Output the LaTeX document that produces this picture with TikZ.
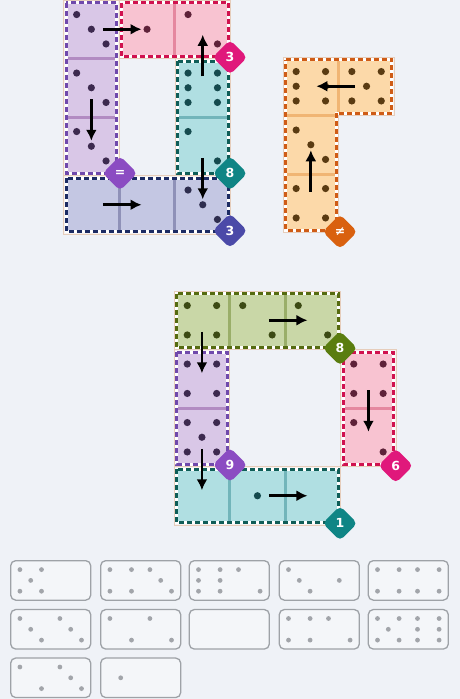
\documentclass[tikz,border=0pt]{standalone}
\usepackage{fontspec}
\setmainfont{DejaVu Sans}
\usetikzlibrary{arrows.meta,shapes.geometric}

\definecolor{bgcol}{HTML}{EFF2F7}
\definecolor{cellbg}{HTML}{F7F2EF}
\definecolor{celledge}{HTML}{E6CDBB}
\definecolor{lilacfill}{HTML}{D9C7E7}
\definecolor{lilacline}{HTML}{7049AC}
\definecolor{lilacdiv}{HTML}{B28BC2}
\definecolor{lilacpip}{HTML}{3D2A4F}
\definecolor{lilacbadge}{HTML}{8B4CC2}
\definecolor{rosefill}{HTML}{F8C3D1}
\definecolor{roseline}{HTML}{D0124F}
\definecolor{rosediv}{HTML}{E5879F}
\definecolor{rosepip}{HTML}{5E2239}
\definecolor{rosebadge}{HTML}{E0187B}
\definecolor{tealfill}{HTML}{B0DFE2}
\definecolor{tealline}{HTML}{0F5E58}
\definecolor{tealdiv}{HTML}{72B5BA}
\definecolor{tealpip}{HTML}{154A4E}
\definecolor{tealbadge}{HTML}{0F8585}
\definecolor{navyfill}{HTML}{C4C7E3}
\definecolor{navyline}{HTML}{1C2B63}
\definecolor{navydiv}{HTML}{8F91B8}
\definecolor{navypip}{HTML}{2E2D4E}
\definecolor{navybadge}{HTML}{4B4AA8}
\definecolor{amberfill}{HTML}{FCD9A9}
\definecolor{amberline}{HTML}{CF5C16}
\definecolor{amberdiv}{HTML}{F0B574}
\definecolor{amberpip}{HTML}{5A3B12}
\definecolor{amberbadge}{HTML}{D9610F}
\definecolor{olivefill}{HTML}{C9D7A7}
\definecolor{oliveline}{HTML}{566B10}
\definecolor{olivediv}{HTML}{9AAE69}
\definecolor{olivepip}{HTML}{3C4A14}
\definecolor{olivebadge}{HTML}{5A7D0F}
\definecolor{trayfill}{HTML}{F4F6F9}
\definecolor{trayline}{HTML}{9EA2A7}
\definecolor{traypip}{HTML}{A2A5AA}

\newcommand{\pips}[5]{%
  \def\pp##1##2{\fill[#1] ([shift={(##1*#4,##2*#4)}]#2) circle (#5);}%
  \ifcase#3\relax
  \or \pp{0}{0}%
  \or \pp{-1}{-1}\pp{1}{1}%
  \or \pp{-1}{-1}\pp{0}{0}\pp{1}{1}%
  \or \pp{-1}{-1}\pp{1}{-1}\pp{-1}{1}\pp{1}{1}%
  \or \pp{-1}{-1}\pp{1}{-1}\pp{0}{0}\pp{-1}{1}\pp{1}{1}%
  \or \pp{-1}{-1}\pp{1}{-1}\pp{-1}{0}\pp{1}{0}\pp{-1}{1}\pp{1}{1}%
  \fi}

\begin{document}
\begin{tikzpicture}[x=1pt, y=-1pt, >={Latex[length=11pt,width=11pt]},
  cellbed/.style={fill=cellbg, draw=celledge, line width=0.8pt},
  zoneunder/.style={draw=white, line width=3pt},
  zoneline/.style={draw=#1, line width=3pt, dash pattern=on 5pt off 3pt},
  splitline/.style={draw=#1, line width=3pt},
  domarrow/.style={->, line width=2.8pt, shorten <=11.5pt, shorten >=5.5pt},
  badge/.style={diamond, fill=#1, text=white, minimum size=35pt, inner sep=0pt, rounded corners=5pt, font=\fontsize{12.5pt}{12.5pt}\selectfont\bfseries},
  tray/.style={draw=trayline, fill=trayfill, line width=1.3pt, rounded corners=5pt, minimum width=80pt, minimum height=39.5pt, inner sep=0pt}]
\fill[bgcol] (0,0) rectangle (460,699);
\useasboundingbox (0,0) rectangle (460,699);

\coordinate (a00) at (91.35,29.25);
\coordinate (a10) at (147.05,29.25);
\coordinate (a20) at (202.75,29.25);
\coordinate (a01) at (91.35,87.75);
\coordinate (a21) at (202.75,87.75);
\coordinate (a02) at (91.35,146.25);
\coordinate (a22) at (202.75,146.25);
\coordinate (a03) at (91.35,204.75);
\coordinate (a13) at (147.05,204.75);
\coordinate (a23) at (202.75,204.75);
\coordinate (o00) at (310.85,86.25);
\coordinate (o10) at (366.55,86.25);
\coordinate (o01) at (310.85,144.75);
\coordinate (o02) at (310.85,203.25);
\coordinate (b00) at (201.95,320.25);
\coordinate (b10) at (257.45,320.25);
\coordinate (b20) at (312.95,320.25);
\coordinate (b01) at (201.95,378.75);
\coordinate (b02) at (201.95,437.25);
\coordinate (b03) at (201.95,495.75);
\coordinate (b13) at (257.45,495.75);
\coordinate (b23) at (312.95,495.75);
\coordinate (b31) at (368.45,378.75);
\coordinate (b32) at (368.45,437.25);

\draw[cellbed] (63.5,0) rectangle (119.2,175.5);
\draw[cellbed] (119.2,0) rectangle (230.6,58.5);
\draw[cellbed] (174.9,58.5) rectangle (230.6,175.5);
\draw[cellbed] (63.5,175.5) rectangle (230.6,234);
\draw[cellbed] (283,57) -- (394.4,57) -- (394.4,115.5) -- (338.7,115.5) -- (338.7,232.5) -- (283,232.5) -- cycle;
\draw[cellbed] (174.2,291) rectangle (340.7,349.5);
\draw[cellbed] (174.2,349.5) rectangle (229.7,466.5);
\draw[cellbed] (174.2,466.5) rectangle (340.7,525);
\draw[cellbed] (340.7,349.5) rectangle (396.2,466.5);

\fill[lilacfill] (66,2.5) rectangle (116.7,173);
\fill[rosefill] (121.7,2.5) rectangle (228.1,56);
\fill[tealfill] (177.4,61) rectangle (228.1,173);
\fill[navyfill] (66,178) rectangle (228.1,231.5);
\fill[amberfill] (285.5,59.5) -- (391.9,59.5) -- (391.9,113) -- (336.2,113) -- (336.2,230) -- (285.5,230) -- cycle;
\fill[olivefill] (176.7,293.5) rectangle (338.2,347);
\fill[lilacfill] (176.7,352) rectangle (227.2,464);
\fill[tealfill] (176.7,469) rectangle (338.2,522.5);
\fill[rosefill] (343.2,352) rectangle (393.7,464);

\draw[splitline=lilacdiv] (66,58.5) -- (116.7,58.5);
\draw[splitline=lilacdiv] (66,117) -- (116.7,117);
\draw[splitline=rosediv] (174.9,2.5) -- (174.9,56);
\draw[splitline=tealdiv] (177.4,117) -- (228.1,117);
\draw[splitline=navydiv] (119.2,178) -- (119.2,231.5);
\draw[splitline=navydiv] (174.9,178) -- (174.9,231.5);
\draw[splitline=amberdiv] (338.7,59.5) -- (338.7,113);
\draw[splitline=amberdiv] (285.5,115.5) -- (336.2,115.5);
\draw[splitline=amberdiv] (285.5,174) -- (336.2,174);
\draw[splitline=olivediv] (229.7,293.5) -- (229.7,347);
\draw[splitline=olivediv] (285.2,293.5) -- (285.2,347);
\draw[splitline=lilacdiv] (176.7,408) -- (227.2,408);
\draw[splitline=tealdiv] (229.7,469) -- (229.7,522.5);
\draw[splitline=tealdiv] (285.2,469) -- (285.2,522.5);
\draw[splitline=rosediv] (343.2,408) -- (393.7,408);

\draw[zoneunder] (66,2.5) rectangle (116.7,173);
\draw[zoneline=lilacline] (66,2.5) rectangle (116.7,173);
\draw[zoneunder] (121.7,2.5) rectangle (228.1,56);
\draw[zoneline=roseline] (121.7,2.5) rectangle (228.1,56);
\draw[zoneunder] (177.4,61) rectangle (228.1,173);
\draw[zoneline=tealline] (177.4,61) rectangle (228.1,173);
\draw[zoneunder] (66,178) rectangle (228.1,231.5);
\draw[zoneline=navyline] (66,178) rectangle (228.1,231.5);
\draw[zoneunder] (285.5,59.5) -- (391.9,59.5) -- (391.9,113) -- (336.2,113) -- (336.2,230) -- (285.5,230) -- cycle;
\draw[zoneline=amberline] (285.5,59.5) -- (391.9,59.5) -- (391.9,113) -- (336.2,113) -- (336.2,230) -- (285.5,230) -- cycle;
\draw[zoneunder] (176.7,293.5) rectangle (338.2,347);
\draw[zoneline=oliveline] (176.7,293.5) rectangle (338.2,347);
\draw[zoneunder] (176.7,352) rectangle (227.2,464);
\draw[zoneline=lilacline] (176.7,352) rectangle (227.2,464);
\draw[zoneunder] (176.7,469) rectangle (338.2,522.5);
\draw[zoneline=tealline] (176.7,469) rectangle (338.2,522.5);
\draw[zoneunder] (343.2,352) rectangle (393.7,464);
\draw[zoneline=roseline] (343.2,352) rectangle (393.7,464);

\pips{lilacpip}{a00}{3}{14.7}{3.6}
\pips{lilacpip}{a01}{3}{14.7}{3.6}
\pips{lilacpip}{a02}{3}{14.7}{3.6}
\pips{rosepip}{a10}{1}{14.7}{3.6}
\pips{rosepip}{a20}{2}{14.7}{3.6}
\pips{tealpip}{a21}{6}{14.7}{3.6}
\pips{tealpip}{a22}{2}{14.7}{3.6}
\pips{navypip}{a23}{3}{14.7}{3.6}
\pips{amberpip}{o00}{6}{14.7}{3.6}
\pips{amberpip}{o10}{5}{14.7}{3.6}
\pips{amberpip}{o01}{3}{14.7}{3.6}
\pips{amberpip}{o02}{4}{14.7}{3.6}
\pips{olivepip}{b00}{4}{14.7}{3.6}
\pips{olivepip}{b10}{2}{14.7}{3.6}
\pips{olivepip}{b20}{2}{14.7}{3.6}
\pips{lilacpip}{b01}{4}{14.7}{3.6}
\pips{lilacpip}{b02}{5}{14.7}{3.6}
\pips{tealpip}{b13}{1}{14.7}{3.6}
\pips{rosepip}{b31}{4}{14.7}{3.6}
\pips{rosepip}{b32}{2}{14.7}{3.6}

\draw[domarrow] (a00) -- (a10);
\draw[domarrow] (a01) -- (a02);
\draw[domarrow] (a21) -- (a20);
\draw[domarrow] (a22) -- (a23);
\draw[domarrow] (a03) -- (a13);
\draw[domarrow] (o10) -- (o00);
\draw[domarrow] (o02) -- (o01);
\draw[domarrow] (b00) -- (b01);
\draw[domarrow] (b10) -- (b20);
\draw[domarrow] (b02) -- (b03);
\draw[domarrow] (b13) -- (b23);
\draw[domarrow] (b31) -- (b32);

\node[badge=rosebadge] (sumA) at (230,57.3) {3};
\node[badge=tealbadge] (sumB) at (230,173.3) {8};
\node[badge=navybadge] (sumC) at (230,230.7) {3};
\node[badge=lilacbadge] (sumD) at (120,173.3) {=};
\node[badge=amberbadge] (sumE) at (340,231.7) {≠};
\node[badge=olivebadge] (sumF) at (340,348.3) {8};
\node[badge=lilacbadge] (sumG) at (230,465) {9};
\node[badge=rosebadge] (sumH) at (395.7,465.7) {6};
\node[badge=tealbadge] (sumI) at (340,523.3) {1};

\foreach \nm/\px/\py/\lv/\rv in {t1/50.7/580.4/5/0, t2/140.7/580.4/4/3, t3/229.3/580.4/6/2, t4/319.3/580.4/3/1, t5/408.3/580.4/4/4,
    t6/50.7/629.3/3/3, t7/140.7/629.3/2/2, t8/229.3/629.3/0/0, t9/319.3/629.3/4/2, t10/408.3/629.3/5/6,
    t11/50.7/677.8/2/3, t12/140.7/677.8/1/0} {
  \node[tray] (\nm) at (\px,\py) {};
  \coordinate (\nm l) at ([xshift=-20pt]\nm.center);
  \coordinate (\nm r) at ([xshift=20pt]\nm.center);
  \pips{traypip}{\nm l}{\lv}{10.8}{2.4}
  \pips{traypip}{\nm r}{\rv}{10.8}{2.4}
}
\end{tikzpicture}
\end{document}
